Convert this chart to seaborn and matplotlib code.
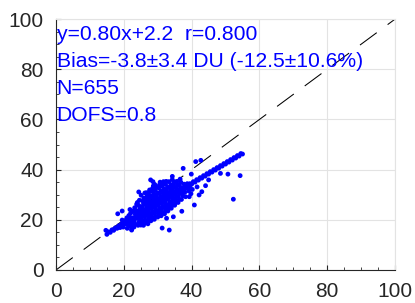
import numpy as np
import pandas as pd
import matplotlib.pyplot as plt
import seaborn as sns

# retrievals sitting on the fit line (two close rows)
line_x = [15, 16, 17, 18, 19, 20, 21, 22, 23, 24, 25, 26, 27, 28, 29, 30, 31, 32, 33, 34,
          35, 36, 37, 38, 39, 40, 41, 42, 43, 44, 45, 46, 47, 48, 49, 50, 51, 52, 53, 54, 55]
line_y = [14.2, 15.0, 15.8, 16.6, 17.4, 18.2, 19.0, 19.8, 20.6, 21.4, 22.2, 23.0, 23.8, 24.6,
          25.4, 26.2, 27.0, 27.8, 28.6, 29.4, 30.2, 31.0, 31.8, 32.6, 33.4, 34.2, 35.0, 35.8,
          36.6, 37.4, 38.2, 39.0, 39.8, 40.6, 41.4, 42.2, 43.0, 43.8, 44.6, 45.4, 46.2]
line2_x = [15.5, 16.5, 17.5, 18.5, 19.5, 20.5, 21.5, 22.5, 23.5, 24.5, 25.5, 26.5, 27.5, 28.5,
           29.5, 30.5, 31.5, 32.5, 33.5, 34.5, 35.5, 36.5, 37.5, 38.5, 39.5, 40.5, 41.5, 42.5,
           43.5, 44.5, 45.5, 46.5, 47.5, 48.5, 49.5, 50.5, 51.5, 52.5, 53.5, 54.5]
line2_y = [15.2, 16.0, 16.8, 17.6, 18.4, 19.2, 20.0, 20.8, 21.6, 22.4, 23.2, 24.0, 24.8, 25.6,
           26.4, 27.2, 28.0, 28.8, 29.6, 30.4, 31.2, 32.0, 32.8, 33.6, 34.4, 35.2, 36.0, 36.8,
           37.6, 38.4, 39.2, 40.0, 40.8, 41.6, 42.4, 43.2, 44.0, 44.8, 45.6, 46.4]

# dense core of the cloud
core_x = [18.6, 19.3, 19.8, 20.2, 20.6, 19.5, 20.9, 18.9,
          21.0, 21.4, 21.2, 21.7, 22.1, 21.5, 22.4, 22.0, 21.8, 22.6, 22.3, 21.1, 22.8,
          23.0, 23.3, 23.1, 23.6, 23.4, 23.8, 23.2, 23.9, 24.2, 24.5, 24.1, 24.7, 24.3, 24.8, 24.4, 24.0, 24.6,
          25.0, 25.3, 25.1, 25.5, 25.2, 25.7, 25.4, 25.8, 25.6, 25.9, 25.1,
          26.0, 26.3, 26.1, 26.5, 26.2, 26.7, 26.4, 26.8, 26.6, 26.9, 26.2,
          27.0, 27.3, 27.1, 27.5, 27.2, 27.7, 27.4, 27.8, 27.6, 27.9, 27.3, 27.6, 27.1,
          28.0, 28.3, 28.1, 28.5, 28.2, 28.7, 28.4, 28.8, 28.6, 28.9, 28.3, 28.5, 28.7,
          29.0, 29.3, 29.1, 29.5, 29.2, 29.7, 29.4, 29.8, 29.6, 29.9, 29.3, 29.6, 29.1,
          30.0, 30.3, 30.1, 30.5, 30.2, 30.7, 30.4, 30.8, 30.6, 30.9, 30.3, 30.5, 30.7,
          31.0, 31.3, 31.1, 31.5, 31.2, 31.7, 31.4, 31.8, 31.6, 31.9, 31.3, 31.6,
          32.0, 32.3, 32.1, 32.5, 32.2, 32.7, 32.4, 32.8, 32.6, 32.9, 32.3, 32.5,
          33.0, 33.3, 33.1, 33.5, 33.2, 33.7, 33.4, 33.8, 33.6, 33.9, 33.3,
          34.0, 34.3, 34.1, 34.5, 34.2, 34.7, 34.4, 34.8, 34.6, 34.9, 34.3,
          35.0, 35.3, 35.1, 35.5, 35.2, 35.7, 35.4, 35.8, 35.6,
          36.0, 36.3, 36.1, 36.5, 36.2, 36.7, 36.4, 36.8, 36.6,
          37.0, 37.4, 37.2, 37.6, 37.8, 38.2, 38.0, 38.5, 38.7, 39.1, 39.4, 39.8]
core_y = [17.4, 18.2, 17.1, 19.6, 18.4, 19.9, 20.8, 16.9,
          16.6, 17.9, 19.2, 20.5, 17.3, 21.7, 18.8, 22.6, 24.1, 20.2, 16.2, 19.9, 23.5,
          17.1, 18.4, 19.7, 21.0, 22.3, 23.6, 24.8, 25.9, 17.8, 19.2, 20.6, 21.9, 23.1, 24.4, 25.7, 26.9, 27.8,
          17.9, 19.1, 20.4, 21.6, 22.8, 24.0, 25.2, 26.4, 27.5, 28.6, 29.8,
          18.6, 19.9, 21.2, 22.4, 23.7, 24.9, 26.1, 27.3, 28.5, 29.6, 30.7,
          19.1, 20.3, 21.5, 22.7, 23.9, 25.0, 26.2, 27.3, 28.5, 29.6, 30.8, 31.9, 18.4,
          19.6, 20.8, 22.0, 23.2, 24.4, 25.6, 26.8, 27.9, 29.1, 30.2, 31.4, 32.6, 33.5,
          20.2, 21.4, 22.6, 23.8, 25.0, 26.1, 27.3, 28.4, 29.6, 30.7, 31.9, 33.0, 34.1,
          21.1, 22.3, 23.5, 24.7, 25.9, 27.0, 28.2, 29.3, 30.5, 31.6, 32.8, 33.9, 35.0,
          21.6, 22.9, 24.1, 25.3, 26.5, 27.7, 28.9, 30.0, 31.2, 32.3, 33.5, 34.6,
          22.4, 23.6, 24.8, 26.0, 27.2, 28.4, 29.6, 30.8, 31.9, 33.1, 34.2, 35.3,
          23.5, 24.7, 25.9, 27.1, 28.3, 29.5, 30.6, 31.8, 32.9, 34.0, 35.2,
          24.6, 25.8, 27.0, 28.2, 29.4, 30.6, 31.7, 32.9, 34.0, 35.1, 36.0,
          25.8, 27.0, 28.2, 29.4, 30.6, 31.8, 32.9, 34.1, 35.3,
          26.9, 28.1, 29.3, 30.5, 31.6, 32.8, 33.9, 35.0, 36.2,
          28.1, 29.6, 31.1, 32.6, 34.2, 29.2, 31.0, 32.7, 34.4, 31.5, 33.2, 30.4]

# scattered points away from the core
out_x = [52.3, 54.3, 50.7, 48.5, 41.2, 42.7, 37.5, 33.4, 31.3, 18.2, 19.5, 24.4, 27.9, 28.6,
         14.7, 37.1, 40.8, 39.9, 40.2, 41.6, 42.2, 45.0, 44.1, 43.0, 39.3, 34.6, 32.6, 27.2,
         25.8, 22.3, 23.8, 26.7, 34.3, 31.7]
out_y = [28.2, 37.6, 38.2, 38.5, 43.2, 43.7, 40.5, 15.9, 16.7, 22.4, 23.5, 31.1, 35.9, 35.2,
         15.8, 23.4, 25.9, 38.2, 32.1, 33.1, 29.9, 35.9, 33.6, 31.2, 29.2, 21.2, 20.6, 19.7,
         17.8, 15.9, 26.3, 30.8, 37.3, 35.2]

one_to_one = [0, 100]

stats_lines = ["y=0.80x+2.2  r=0.800",
               "Bias=-3.8\u00b13.4 DU (-12.5\u00b110.6%)",
               "N=655",
               "DOFS=0.8"]
stats_y = [91.6, 80.9, 70.1, 59.4]

sns.set_theme(style="white")
plt.rcParams["font.family"] = ["Liberation Sans", "DejaVu Sans"]

df = pd.DataFrame({"x": line_x + line2_x + core_x + out_x,
                   "y": line_y + line2_y + core_y + out_y})

fig = plt.figure(figsize=(4.15, 3.03), dpi=100)
ax = fig.add_axes([0.135, 0.109, 0.817, 0.828])

grid_c = "#e3e3e3"
ax.grid(True, color=grid_c, linewidth=0.8)
ax.set_axisbelow(True)

ax.plot(one_to_one, one_to_one, color="black", linewidth=0.75,
        linestyle=(0, (20, 13)), zorder=2)
sns.scatterplot(data=df, x="x", y="y", ax=ax, color=(0, 0, 1), s=12,
                linewidth=0, edgecolor="none", zorder=3)

for txt, yy in zip(stats_lines, stats_y):
    ax.text(0.2, yy, txt, color=(0, 0, 1), fontsize=15.2, ha="left", va="baseline",
            zorder=4)

ax.set_xlim(0, 100)
ax.set_ylim(0, 100)
ticks = [0, 20, 40, 60, 80, 100]
ax.set_xticks(ticks)
ax.set_yticks(ticks)
ax.set_xticks(np.arange(0, 101, 5), minor=True)
ax.set_yticks(np.arange(0, 101, 5), minor=True)
ax.set_xlabel("")
ax.set_ylabel("")

dark = "#262626"
for side in ["left", "bottom"]:
    ax.spines[side].set_color(dark)
    ax.spines[side].set_linewidth(0.8)
for side in ["top", "right"]:
    ax.spines[side].set_color(grid_c)
    ax.spines[side].set_linewidth(0.8)

ax.tick_params(which="both", direction="in", color=dark, top=False, right=False,
               left=True, bottom=True)
ax.tick_params(which="major", length=3.5, width=0.8, labelsize=15,
               labelcolor=dark, pad=9)
ax.tick_params(which="minor", length=2.5, width=0.6)

fig.savefig("out.png", dpi=100)
